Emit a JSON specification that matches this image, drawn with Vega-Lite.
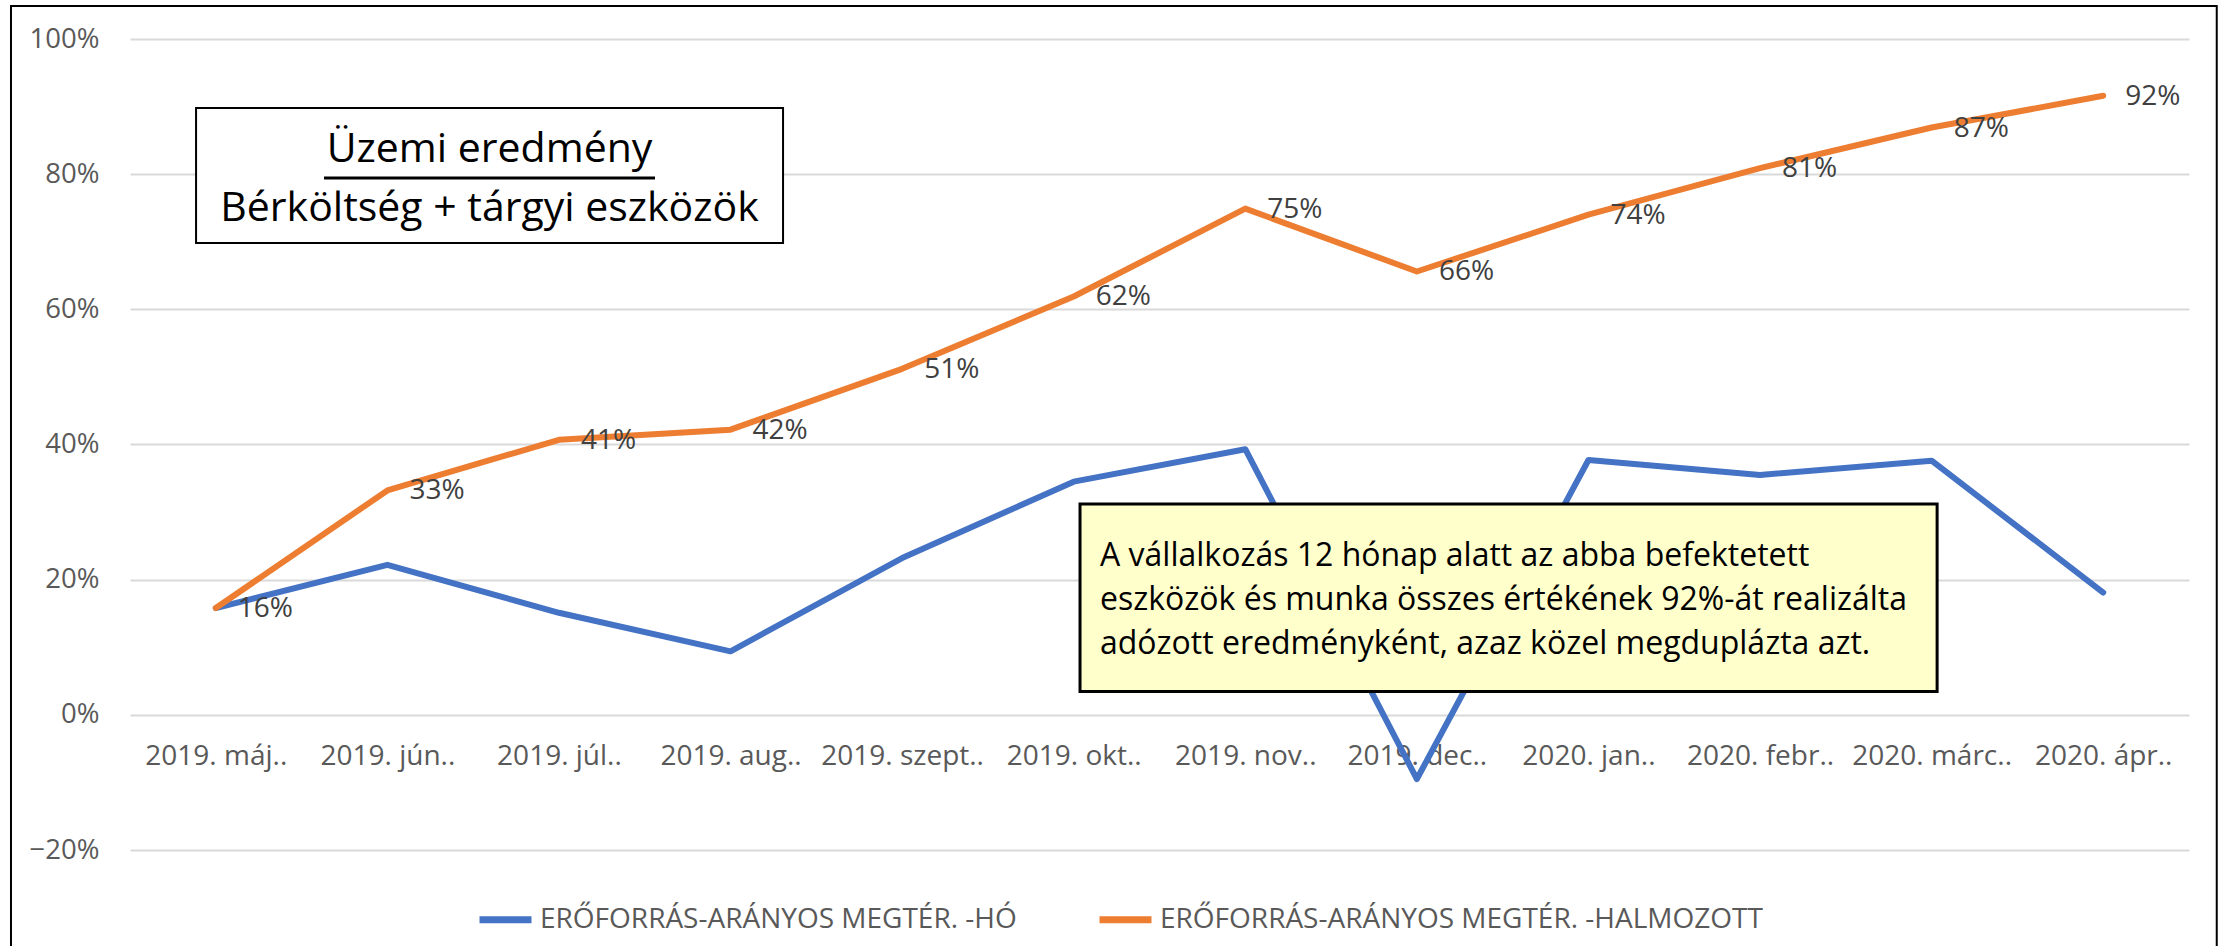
{
  "$schema": "https://vega.github.io/schema/vega-lite/v6.json",
  "width": 2059,
  "height": 811,
  "autosize": {"type": "none"},
  "padding": {"left": 130, "top": 39, "right": 32, "bottom": 96},
  "background": "white",
  "config": {"view": {"stroke": null}, "font": "Open Sans"},
  "datasets": {
    "series": [
      {"month": "2019. máj..", "i": 0, "series": "ERŐFORRÁS-ARÁNYOS MEGTÉR. -HÓ", "value": 0.158},
      {"month": "2019. jún..", "i": 1, "series": "ERŐFORRÁS-ARÁNYOS MEGTÉR. -HÓ", "value": 0.222},
      {"month": "2019. júl..", "i": 2, "series": "ERŐFORRÁS-ARÁNYOS MEGTÉR. -HÓ", "value": 0.151},
      {"month": "2019. aug..", "i": 3, "series": "ERŐFORRÁS-ARÁNYOS MEGTÉR. -HÓ", "value": 0.094},
      {"month": "2019. szept..", "i": 4, "series": "ERŐFORRÁS-ARÁNYOS MEGTÉR. -HÓ", "value": 0.232},
      {"month": "2019. okt..", "i": 5, "series": "ERŐFORRÁS-ARÁNYOS MEGTÉR. -HÓ", "value": 0.345},
      {"month": "2019. nov..", "i": 6, "series": "ERŐFORRÁS-ARÁNYOS MEGTÉR. -HÓ", "value": 0.393},
      {"month": "2019. dec..", "i": 7, "series": "ERŐFORRÁS-ARÁNYOS MEGTÉR. -HÓ", "value": -0.095},
      {"month": "2020. jan..", "i": 8, "series": "ERŐFORRÁS-ARÁNYOS MEGTÉR. -HÓ", "value": 0.377},
      {"month": "2020. febr..", "i": 9, "series": "ERŐFORRÁS-ARÁNYOS MEGTÉR. -HÓ", "value": 0.355},
      {"month": "2020. márc..", "i": 10, "series": "ERŐFORRÁS-ARÁNYOS MEGTÉR. -HÓ", "value": 0.376},
      {"month": "2020. ápr..", "i": 11, "series": "ERŐFORRÁS-ARÁNYOS MEGTÉR. -HÓ", "value": 0.181},
      {"month": "2019. máj..", "i": 0, "series": "ERŐFORRÁS-ARÁNYOS MEGTÉR. -HALMOZOTT", "value": 0.158},
      {"month": "2019. jún..", "i": 1, "series": "ERŐFORRÁS-ARÁNYOS MEGTÉR. -HALMOZOTT", "value": 0.332},
      {"month": "2019. júl..", "i": 2, "series": "ERŐFORRÁS-ARÁNYOS MEGTÉR. -HALMOZOTT", "value": 0.407},
      {"month": "2019. aug..", "i": 3, "series": "ERŐFORRÁS-ARÁNYOS MEGTÉR. -HALMOZOTT", "value": 0.422},
      {"month": "2019. szept..", "i": 4, "series": "ERŐFORRÁS-ARÁNYOS MEGTÉR. -HALMOZOTT", "value": 0.512},
      {"month": "2019. okt..", "i": 5, "series": "ERŐFORRÁS-ARÁNYOS MEGTÉR. -HALMOZOTT", "value": 0.619},
      {"month": "2019. nov..", "i": 6, "series": "ERŐFORRÁS-ARÁNYOS MEGTÉR. -HALMOZOTT", "value": 0.749},
      {"month": "2019. dec..", "i": 7, "series": "ERŐFORRÁS-ARÁNYOS MEGTÉR. -HALMOZOTT", "value": 0.656},
      {"month": "2020. jan..", "i": 8, "series": "ERŐFORRÁS-ARÁNYOS MEGTÉR. -HALMOZOTT", "value": 0.740},
      {"month": "2020. febr..", "i": 9, "series": "ERŐFORRÁS-ARÁNYOS MEGTÉR. -HALMOZOTT", "value": 0.809},
      {"month": "2020. márc..", "i": 10, "series": "ERŐFORRÁS-ARÁNYOS MEGTÉR. -HALMOZOTT", "value": 0.869},
      {"month": "2020. ápr..", "i": 11, "series": "ERŐFORRÁS-ARÁNYOS MEGTÉR. -HALMOZOTT", "value": 0.916}
    ]
  },
  "resolve": {"scale": {"x": "independent"}, "axis": {"x": "independent"}},
  "layer": [
    {
      "data": {"name": "series"},
      "encoding": {
        "x": {
          "field": "month", "type": "ordinal", "sort": null,
          "axis": {"title": null, "domain": false, "ticks": false, "grid": false, "labelAngle": 0,
                   "labelPadding": 27, "offset": -135, "labelFontSize": 28, "labelColor": "#595959",
                   "labelFont": "Open Sans", "labelOverlap": false, "labelLimit": 0}
        },
        "y": {
          "field": "value", "type": "quantitative",
          "scale": {"domain": [-0.2, 1], "nice": false, "zero": false},
          "axis": {"title": null, "values": [-0.2, 0, 0.2, 0.4, 0.6, 0.8, 1], "format": ".0%",
                   "domain": false, "ticks": false, "labelPadding": 31, "labelFontSize": 27.5,
                   "labelColor": "#595959", "labelFont": "Open Sans", "gridColor": "#D9D9D9", "gridWidth": 2}
        },
        "color": {
          "field": "series", "type": "nominal",
          "scale": {"domain": ["ERŐFORRÁS-ARÁNYOS MEGTÉR. -HÓ", "ERŐFORRÁS-ARÁNYOS MEGTÉR. -HALMOZOTT"], "range": ["#4472C4", "#ED7D31"]},
          "legend": {"orient": "none", "legendX": 346, "legendY": 851, "direction": "horizontal", "title": null,
                     "symbolType": "stroke", "symbolStrokeWidth": 7, "symbolSize": 2700,
                     "labelFontSize": 28, "labelColor": "#595959", "labelFont": "Open Sans",
                     "columnPadding": 68, "labelOffset": 5, "padding": 0, "labelLimit": 0}
        }
      },
      "layer": [
        {"mark": {"type": "line", "strokeWidth": 6, "strokeCap": "round", "strokeJoin": "round"}},
        {
          "transform": [{"filter": "datum.series === 'ERŐFORRÁS-ARÁNYOS MEGTÉR. -HALMOZOTT'"}],
          "mark": {"type": "text", "align": "left", "baseline": "middle", "dx": 22, "dy": 1, "fontSize": 28, "font": "Open Sans"},
          "encoding": {"text": {"field": "value", "type": "quantitative", "format": ".0%"}, "color": {"value": "#404040"}}
        }
      ]
    },
    {
      "layer": [
        {
          "data": {"values": [{"frame": "chart"}]},
          "mark": {"type": "rect", "fill": "transparent", "stroke": "black", "strokeWidth": 2},
          "encoding": {
            "x": {"datum": -1.1936, "type": "quantitative", "scale": {"domain": [-0.5, 11.5], "nice": false, "zero": false}, "axis": null},
            "x2": {"datum": 11.6617},
            "y": {"datum": 1.049, "type": "quantitative", "scale": {"domain": [-0.2, 1], "nice": false, "zero": false}},
            "y2": {"datum": -0.348}
          }
        },
        {
          "data": {"values": [{"box": "title"}]},
          "mark": {"type": "rect", "fill": "white", "stroke": "black", "strokeWidth": 2},
          "encoding": {
            "x": {"datum": -0.115, "type": "quantitative", "scale": {"domain": [-0.5, 11.5], "nice": false, "zero": false}, "axis": null},
            "x2": {"datum": 3.306},
            "y": {"datum": 0.898, "type": "quantitative", "scale": {"domain": [-0.2, 1], "nice": false, "zero": false}},
            "y2": {"datum": 0.6983}
          }
        },
        {
          "data": {"values": [{"t": "Üzemi eredmény"}]},
          "mark": {"type": "text", "align": "center", "baseline": "alphabetic", "fontSize": 41, "font": "Open Sans", "color": "black"},
          "encoding": {
            "x": {"datum": 1.5953, "type": "quantitative", "scale": {"domain": [-0.5, 11.5], "nice": false, "zero": false}, "axis": null},
            "y": {"datum": 0.8175, "type": "quantitative", "scale": {"domain": [-0.2, 1], "nice": false, "zero": false}},
            "text": {"field": "t"}
          }
        },
        {
          "data": {"values": [{"u": "underline"}]},
          "mark": {"type": "rule", "stroke": "black", "strokeWidth": 3},
          "encoding": {
            "x": {"datum": 0.6307, "type": "quantitative", "scale": {"domain": [-0.5, 11.5], "nice": false, "zero": false}, "axis": null},
            "x2": {"datum": 2.5598},
            "y": {"datum": 0.7945, "type": "quantitative", "scale": {"domain": [-0.2, 1], "nice": false, "zero": false}}
          }
        },
        {
          "data": {"values": [{"t": "Bérköltség + tárgyi eszközök"}]},
          "mark": {"type": "text", "align": "center", "baseline": "alphabetic", "fontSize": 41, "font": "Open Sans", "color": "black"},
          "encoding": {
            "x": {"datum": 1.5953, "type": "quantitative", "scale": {"domain": [-0.5, 11.5], "nice": false, "zero": false}, "axis": null},
            "y": {"datum": 0.730, "type": "quantitative", "scale": {"domain": [-0.2, 1], "nice": false, "zero": false}},
            "text": {"field": "t"}
          }
        },
        {
          "data": {"values": [{"box": "note"}]},
          "mark": {"type": "rect", "fill": "#FFFFCC", "stroke": "black", "strokeWidth": 3},
          "encoding": {
            "x": {"datum": 5.0368, "type": "quantitative", "scale": {"domain": [-0.5, 11.5], "nice": false, "zero": false}, "axis": null},
            "x2": {"datum": 10.032},
            "y": {"datum": 0.312, "type": "quantitative", "scale": {"domain": [-0.2, 1], "nice": false, "zero": false}},
            "y2": {"datum": 0.0345}
          }
        },
        {
          "data": {"values": [{"t": "A vállalkozás 12 hónap alatt az abba befektetett"}]},
          "mark": {"type": "text", "align": "left", "baseline": "alphabetic", "fontSize": 32, "font": "Open Sans", "color": "black"},
          "encoding": {
            "x": {"datum": 5.1533, "type": "quantitative", "scale": {"domain": [-0.5, 11.5], "nice": false, "zero": false}, "axis": null},
            "y": {"datum": 0.2207, "type": "quantitative", "scale": {"domain": [-0.2, 1], "nice": false, "zero": false}},
            "text": {"field": "t"}
          }
        },
        {
          "data": {"values": [{"t": "eszközök és munka összes értékének 92%-át realizálta"}]},
          "mark": {"type": "text", "align": "left", "baseline": "alphabetic", "fontSize": 32, "font": "Open Sans", "color": "black"},
          "encoding": {
            "x": {"datum": 5.1533, "type": "quantitative", "scale": {"domain": [-0.5, 11.5], "nice": false, "zero": false}, "axis": null},
            "y": {"datum": 0.1555, "type": "quantitative", "scale": {"domain": [-0.2, 1], "nice": false, "zero": false}},
            "text": {"field": "t"}
          }
        },
        {
          "data": {"values": [{"t": "adózott eredményként, azaz közel megduplázta azt."}]},
          "mark": {"type": "text", "align": "left", "baseline": "alphabetic", "fontSize": 32, "font": "Open Sans", "color": "black"},
          "encoding": {
            "x": {"datum": 5.1533, "type": "quantitative", "scale": {"domain": [-0.5, 11.5], "nice": false, "zero": false}, "axis": null},
            "y": {"datum": 0.0903, "type": "quantitative", "scale": {"domain": [-0.2, 1], "nice": false, "zero": false}},
            "text": {"field": "t"}
          }
        }
      ]
    }
  ]
}
